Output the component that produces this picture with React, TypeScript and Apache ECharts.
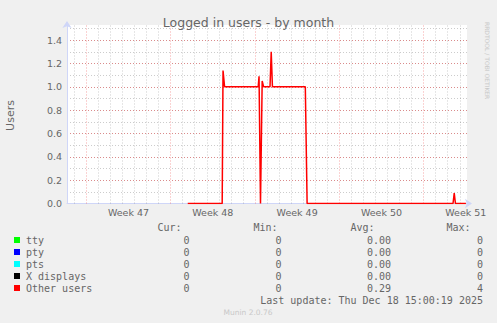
import React, { useEffect, useRef } from "react";
import * as echarts from "echarts";

// ---- data (x in days since left edge of the graph) ----
const otherUsersTimes = [10.02, 12.88, 12.95, 13.08, 15.87, 15.94, 16.06, 16.2, 16.32, 16.85, 16.95, 17.05, 19.78, 19.93, 32.04, 32.14, 32.24, 33.11];
const otherUsersValues = [0, 0, 1.14, 1.0, 1.0, 1.09, 0, 1.05, 1.0, 1.0, 1.3, 1.0, 1.0, 0, 0, 0.09, 0, 0];

const weekLines = [1.6, 8.6, 15.6, 22.6, 29.6];
const dayLines = [0.6, 2.6, 3.6, 4.6, 5.6, 6.6, 7.6, 9.6, 10.6, 11.6, 12.6, 13.6, 14.6, 16.6, 17.6, 18.6, 19.6, 20.6, 21.6, 23.6, 24.6, 25.6, 26.6, 27.6, 28.6, 30.6, 31.6, 32.6];
const weekLabelPos = [5.1, 12.1, 19.1, 26.1, 33.1];
const weekLabels = ["Week 47", "Week 48", "Week 49", "Week 50", "Week 51"];

const seriesNames = ["tty", "pty", "pts", "X displays", "Other users"];
const seriesColors = ["#00ff00", "#0000ff", "#00ffff", "#000000", "#ff0000"];
const curValues = ["0", "0", "0", "0", "0"];
const minValues = ["0", "0", "0", "0", "0"];
const avgValues = ["0.00", "0.00", "0.00", "0.00", "0.29"];
const maxValues = ["0", "0", "0", "0", "4"];
const statHeaders = ["Cur:", "Min:", "Avg:", "Max:"];

const titleText = "Logged in users - by month";
const yAxisTitle = "Users";
const lastUpdate = "Last update: Thu Dec 18 15:00:19 2025";
const footer = "Munin 2.0.76";
const sideText = "RRDTOOL / TOBI OETIKER";

const SANS = "DejaVu Sans";
const MONO = "DejaVu Sans Mono";
const FONT_COLOR = "#666666";
const AXIS_COLOR = "#CFD6F8";
const MAJOR_GRID = "rgba(235,60,60,0.45)";
const MINOR_GRID = "rgba(0,0,0,0.2)";

function pairs(xs: number[], ys: number[]) {
  return xs.map((x, i) => [x, ys[i]]);
}

export default function App() {
  const ref = useRef<HTMLDivElement>(null);

  useEffect(() => {
    document.body.style.margin = "0";
    document.body.style.background = "#f0f0f0";
    if (!ref.current) return;
    const chart = echarts.init(ref.current, undefined, { renderer: "svg" });

    const gridMarks = [
      ...dayLines.map((v) => ({ xAxis: v, lineStyle: { color: MINOR_GRID, type: [1, 2], width: 1 } })),
      ...weekLines.map((v) => ({ xAxis: v, lineStyle: { color: MAJOR_GRID, type: [1, 2], width: 1 } })),
    ];

    const statCols = [
      { hx: 181.5, vx: 189.5, vals: curValues },
      { hx: 277.5, vx: 281.5, vals: minValues },
      { hx: 374.5, vx: 391, vals: avgValues },
      { hx: 470.5, vx: 483, vals: maxValues },
    ];
    const rowY = [240, 252, 264, 276, 288];
    const monoFont = `10px "${MONO}"`;

    const graphics: any[] = [];
    statHeaders.forEach((h, i) => {
      graphics.push({
        type: "text",
        x: statCols[i].hx,
        y: 227.5,
        style: { text: h, font: monoFont, fill: FONT_COLOR, textAlign: "right", textVerticalAlign: "middle" },
      });
    });
    seriesNames.forEach((name, r) => {
      graphics.push({
        type: "rect",
        shape: { x: 14, y: rowY[r] - 3, width: 6, height: 6 },
        style: { fill: seriesColors[r] },
      });
      graphics.push({
        type: "text",
        x: 26,
        y: rowY[r],
        style: { text: name, font: monoFont, fill: FONT_COLOR, textAlign: "left", textVerticalAlign: "middle" },
      });
      statCols.forEach((c) => {
        graphics.push({
          type: "text",
          x: c.vx,
          y: rowY[r],
          style: { text: c.vals[r], font: monoFont, fill: FONT_COLOR, textAlign: "right", textVerticalAlign: "middle" },
        });
      });
    });
    graphics.push({
      type: "text",
      x: 483,
      y: 300,
      style: { text: lastUpdate, font: monoFont, fill: FONT_COLOR, textAlign: "right", textVerticalAlign: "middle" },
    });
    graphics.push({
      type: "text",
      x: 248,
      y: 312,
      style: { text: footer, font: `7.5px "${SANS}"`, fill: "#c8c8c8", textAlign: "center", textVerticalAlign: "middle" },
    });
    graphics.push({
      type: "text",
      x: 487,
      y: 22,
      rotation: -Math.PI / 2,
      style: { text: sideText, font: `6px "${SANS}"`, fill: "#c8c8c8", textAlign: "left", textVerticalAlign: "middle" },
    });
    graphics.push({
      type: "text",
      x: 10,
      y: 115.5,
      rotation: Math.PI / 2,
      style: { text: yAxisTitle, font: `11px "${SANS}"`, fill: FONT_COLOR, textAlign: "center", textVerticalAlign: "middle" },
    });

    const option: any = {
      animation: false,
      backgroundColor: "#f0f0f0",
      title: {
        text: titleText,
        left: "center",
        top: 11,
        textStyle: { fontFamily: SANS, fontSize: 12.5, fontWeight: "normal", color: FONT_COLOR },
      },
      grid: { left: 67, right: 30, top: 25, bottom: 119.5, show: true, backgroundColor: "#ffffff", borderWidth: 0 },
      xAxis: {
        type: "value",
        min: 0,
        max: 33.2,
        axisLine: {
          show: true,
          lineStyle: { color: AXIS_COLOR, width: 1 },
          symbol: ["none", "arrow"],
          symbolSize: [7, 7],
          symbolOffset: [0, 5],
        },
        axisTick: { show: false },
        splitLine: { show: false },
        axisLabel: {
          customValues: weekLabelPos,
          formatter: (v: number) => {
            const i = weekLabelPos.findIndex((p) => Math.abs(p - v) < 0.01);
            return i >= 0 ? weekLabels[i] : "";
          },
          color: FONT_COLOR,
          fontFamily: SANS,
          fontSize: 9.5,
          margin: 4,
        },
      },
      yAxis: [
        {
          type: "value",
          min: 0,
          max: 1.53,
          interval: 0.1,
          position: "left",
          axisLine: { show: false },
          axisTick: { show: false },
          axisLabel: { show: false },
          splitLine: { show: true, showMinLine: false, showMaxLine: false, lineStyle: { color: MINOR_GRID, type: [1, 2], width: 1 } },
        },
        {
          type: "value",
          min: 0,
          max: 1.53,
          interval: 0.2,
          position: "left",
          axisLine: {
            show: true,
            lineStyle: { color: AXIS_COLOR, width: 1 },
            symbol: ["none", "arrow"],
            symbolSize: [7, 7],
            symbolOffset: [0, 4],
          },
          axisTick: { show: false },
          axisLabel: {
            showMaxLabel: false,
            formatter: (v: number) => v.toFixed(1),
            color: FONT_COLOR,
            fontFamily: SANS,
            fontSize: 9.5,
            margin: 5,
          },
          splitLine: { show: true, showMinLine: false, showMaxLine: false, lineStyle: { color: MAJOR_GRID, type: [1, 2], width: 1 } },
        },
      ],
      series: [
        {
          name: seriesNames[4],
          type: "line",
          yAxisIndex: 1,
          data: pairs(otherUsersTimes, otherUsersValues),
          symbol: "none",
          z: 3,
          lineStyle: { color: seriesColors[4], width: 1.5 },
          markLine: {
            silent: true,
            symbol: ["none", "none"],
            label: { show: false },
            animation: false,
            z: 1,
            emphasis: { disabled: true },
            data: gridMarks,
          },
        },
      ],
      graphic: graphics,
    };

    chart.setOption(option);
    return () => chart.dispose();
  }, []);

  return <div ref={ref} style={{ width: 497, height: 323, background: "#f0f0f0" }} />;
}
